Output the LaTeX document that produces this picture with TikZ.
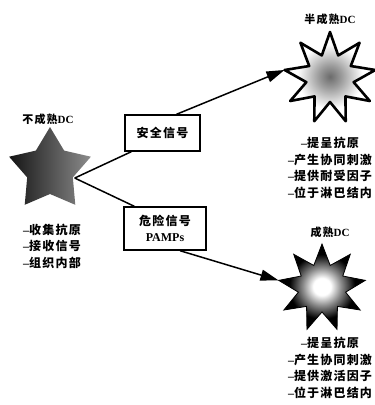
\documentclass[tikz,border=0pt]{standalone}
\usepackage{fontspec}
\setmainfont{Liberation Serif}
\newfontfamily\cjk{Noto Sans CJK SC}[LetterSpace=10]
\usetikzlibrary{arrows.meta}
\newcommand\dsh{{\rmfamily\bfseries –}}
% star outline around node #1: #2 points, outer radius #3, inner radius #4
\newcommand\starpath[4]{%
  ([shift={(90:#3)}]#1.center)
  \foreach \k [evaluate=\k as \ai using 90+180/#2+360/#2*\k,
               evaluate=\k as \ao using 90+360/#2*(\k+1)] in {0,...,\numexpr#2-1\relax} {
    -- ([shift={(\ai:#4)}]#1.center)
    -- ([shift={(\ao:#3)}]#1.center)
  } -- cycle}
% grey haze in the middle of a pale cell, white glow in the middle of a dark one
\pgfdeclareradialshading{haze}{\pgfpoint{0bp}{0bp}}{%
  color(0bp)=(black!58); color(6bp)=(black!40); color(18bp)=(white); color(50bp)=(white)}
\pgfdeclareradialshading{glow}{\pgfpoint{0bp}{0bp}}{%
  color(0bp)=(white); color(5bp)=(white); color(11bp)=(black!45); color(19bp)=(black); color(50bp)=(black)}
\begin{document}
\begin{tikzpicture}[x=1pt,y=-1pt,
  title/.style={font=\fontsize{11}{14}\selectfont\bfseries, inner sep=0pt},
  list/.style={align=center, inner sep=0pt,
    font=\fontsize{12}{16.5}\selectfont\cjk\bfseries},
  sigbox/.style={draw, line width=1.4pt, align=center, inner sep=0pt,
    font=\fontsize{12}{16}\selectfont\bfseries},
  cell/.style={circle, inner sep=0pt},
  link/.style={line width=1.5pt},
  arrow/.style={link, -{Triangle[length=18pt,width=11pt]}},
]
\useasboundingbox (0,0) rectangle (375,405);

% immature dendritic cell
\node[cell, minimum size=86pt] (imm) at (50,170) {};
\shade[shading angle=60, left color=black!92, right color=black!45] \starpath{imm}{5}{43pt}{24pt};
\node[title] (immlab) at (48,119) {{\cjk 不成熟}DC};
\node[list] (immlist) at (52,246) {\dsh 收集抗原\\\dsh 接收信号\\\dsh 组织内部};

% semi-mature dendritic cell
\node[cell, minimum size=92pt] (semi) at (330,78) {};
\shade[shading=haze] \starpath{semi}{9}{46pt}{24pt};
\draw[line width=2.6pt, line join=round] \starpath{semi}{9}{46pt}{24pt};
\node[title] (semilab) at (330,19) {{\cjk 半成熟}DC};
\node[list] (semilist) at (330,168) {\dsh 提呈抗原\\\dsh 产生协同刺激\\\dsh 提供耐受因子\\\dsh 位于淋巴结内};

% mature dendritic cell
\node[cell, minimum size=88pt] (mat) at (322,288) {};
\shade[shading=glow] \starpath{mat}{9}{44pt}{24pt};
\draw[line width=0.8pt] \starpath{mat}{9}{44pt}{24pt};
\node[title] (matlab) at (330,232) {{\cjk 成熟}DC};
\node[list] (matlist) at (330,368) {\dsh 提呈抗原\\\dsh 产生协同刺激\\\dsh 提供激活因子\\\dsh 位于淋巴结内};

% signals
\node[sigbox, minimum width=75pt, minimum height=36pt] (safe) at (162.5,133) {{\cjk 安全信号}};
\node[sigbox, minimum width=82pt, minimum height=43pt] (danger) at (165,228.5) {{\cjk 危险信号}\\PAMPs};

\coordinate (junc) at ([shift={(-18:26pt)}]imm.center);
\draw[link] (junc) -- ([xshift=7pt]safe.south west);
\draw[link] (junc) -- ([xshift=11pt]danger.north west);
\draw[arrow] ([xshift=14pt]safe.north) -- (semi.170);
\draw[arrow] ([xshift=15pt]danger.south) -- (mat.170);
\end{tikzpicture}
\end{document}
